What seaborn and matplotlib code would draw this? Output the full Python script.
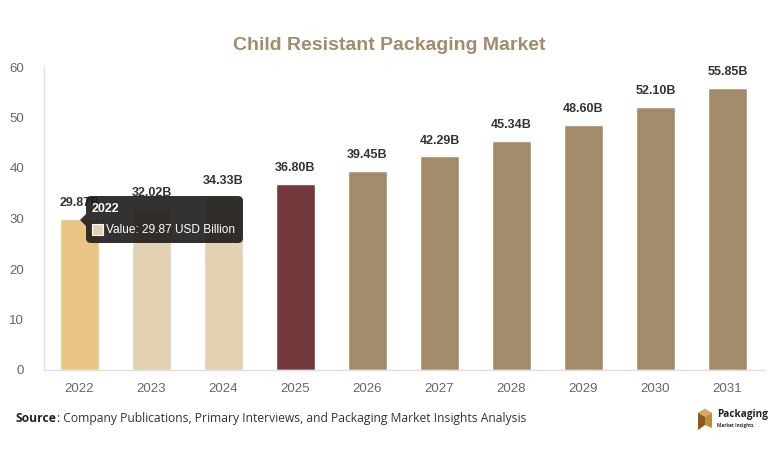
import matplotlib
matplotlib.use("Agg")
import matplotlib.pyplot as plt
import seaborn as sns
import pandas as pd
from matplotlib.patches import FancyBboxPatch, Polygon, Rectangle

years = ["2022", "2023", "2024", "2025", "2026", "2027", "2028", "2029", "2030", "2031"]
values = [29.87, 32.02, 34.33, 36.80, 39.45, 42.29, 45.34, 48.60, 52.10, 55.85]
labels = ["29.87B", "32.02B", "34.33B", "36.80B", "39.45B", "42.29B", "45.34B", "48.60B", "52.10B", "55.85B"]
colors = ["#E8C584", "#E2D1B3", "#E2D1B3", "#723A3A", "#A38B6C", "#A38B6C",
          "#A38B6C", "#A38B6C", "#A38B6C", "#A38B6C"]
yticks = [0, 10, 20, 30, 40, 50, 60]

sns.set_theme(style="white")
plt.rcParams["font.family"] = ["Liberation Sans", "DejaVu Sans"]

df = pd.DataFrame({"year": years, "value": values})

W, H = 782, 457
fig = plt.figure(figsize=(W / 100, H / 100), dpi=100)
ax = fig.add_axes([43.5 / W, 1 - 370 / H, 720 / W, (370 - 67) / H])

sns.barplot(data=df, x="year", y="value", hue="year", palette=colors,
            legend=False, width=0.54, ax=ax, saturation=1)

ax.set_ylim(0, 60)
ax.set_yticks(yticks)
ax.set_xlim(-0.5, len(years) - 0.5)
ax.set_xlabel("")
ax.set_ylabel("")
for s in ["top", "right"]:
    ax.spines[s].set_visible(False)
for s in ["left", "bottom"]:
    ax.spines[s].set_color("#E0E0E0")
    ax.spines[s].set_linewidth(1)
ax.tick_params(axis="both", length=0, labelsize=9.5, labelcolor="#666666")
ax.tick_params(axis="x", pad=9)
ax.tick_params(axis="y", pad=14)

for i, (v, lab) in enumerate(zip(values, labels)):
    ax.annotate(lab, (i, v), xytext=(0, 7), textcoords="offset points",
                ha="center", va="bottom", fontsize=9, fontweight="bold", color="#333333")

fig.text(389 / W, 1 - 45 / H, "Child Resistant Packaging Market", ha="center", va="center",
         fontsize=14, fontweight="bold", color="#A38B6C")

# overlay in pixel coordinates
ov = fig.add_axes([0, 0, 1, 1], zorder=10)
ov.set_xlim(0, W)
ov.set_ylim(H, 0)
ov.axis("off")
ov.patch.set_alpha(0)

# tooltip
box = FancyBboxPatch((86, 196), 157, 47, boxstyle="round,pad=0,rounding_size=5",
                     facecolor="#1e1c1a", edgecolor="none", alpha=0.9)
ov.add_patch(box)
ov.add_patch(Polygon([[86, 214], [86, 226], [80, 220]], closed=True,
                     facecolor="#1e1c1a", edgecolor="none", alpha=0.9))
ov.text(92, 209, "2022", color="white", fontsize=9, fontweight="bold", va="center", ha="left")
ov.add_patch(Rectangle((92, 224), 11, 11, facecolor="#E2D1B3", edgecolor="white", linewidth=0.8))
ov.text(106, 230, "Value: 29.87 USD Billion", color="white", fontsize=8.6, va="center", ha="left")

# source
src = ov.text(16, 422, "Source", fontsize=8.7, fontweight="bold", color="#222222", va="baseline",
              ha="left", family=["Open Sans", "DejaVu Sans"])
ov.annotate(": Company Publications, Primary Interviews, and Packaging Market Insights Analysis",
            xy=(1, 0), xycoords=src, va="bottom", ha="left",
            fontsize=8.7, color="#333333", family=["Open Sans", "DejaVu Sans"])

# logo
ov.add_patch(Polygon([[698, 413], [705, 409], [705, 425], [698, 430]], closed=True,
                     facecolor="#8a5a1e", edgecolor="none"))
ov.add_patch(Polygon([[705, 409], [712, 413], [712, 428], [705, 425]], closed=True,
                     facecolor="#c08a3e", edgecolor="none"))
ov.add_patch(Polygon([[698, 413], [705, 409], [712, 413], [705, 417]], closed=True,
                     facecolor="#d9a865", edgecolor="none"))
ov.text(717, 415, "Packaging", fontsize=7.2, fontweight="bold", color="#222222", va="center",
        ha="left", family=["Open Sans", "DejaVu Sans"])
ov.text(717, 426, "Market Insights.", fontsize=3.3, fontweight="bold", color="#333333",
        va="center", ha="left", family=["Open Sans", "DejaVu Sans"])

fig.savefig("out.png", dpi=100, facecolor="white")
